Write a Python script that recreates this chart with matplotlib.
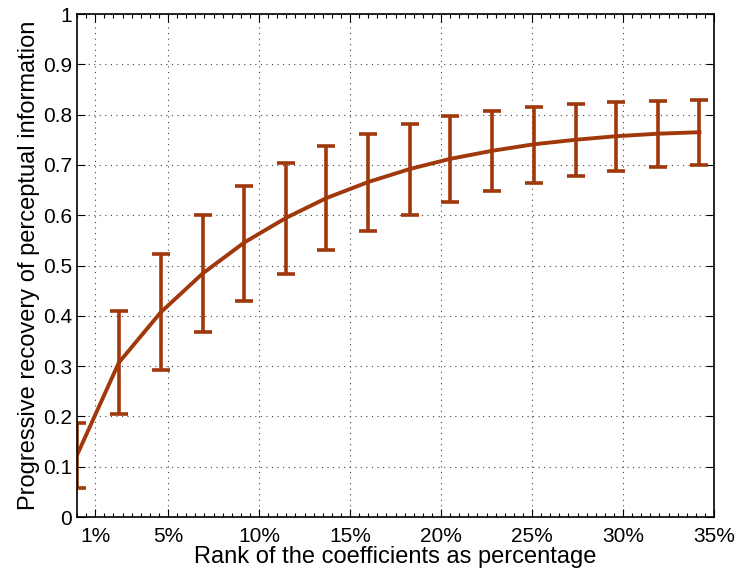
import matplotlib
matplotlib.use('Agg')
import matplotlib.pyplot as plt
from matplotlib.ticker import MultipleLocator

plt.rcParams['font.family'] = ['Liberation Sans', 'DejaVu Sans']

# rank of the retained coefficients (percent) and mean recovery with spread
rank_pct = [0.0, 2.3, 4.6, 6.9, 9.2, 11.5, 13.7, 16.0, 18.3, 20.5, 22.8, 25.1, 27.4, 29.6, 31.9, 34.2]
recovery = [0.123, 0.307, 0.407, 0.484, 0.546, 0.595, 0.634, 0.666, 0.692, 0.712,
            0.728, 0.741, 0.750, 0.757, 0.762, 0.765]
upper = [0.187, 0.409, 0.522, 0.600, 0.659, 0.704, 0.737, 0.762, 0.782, 0.797,
         0.808, 0.816, 0.821, 0.825, 0.828, 0.830]
lower = [0.057, 0.204, 0.292, 0.368, 0.429, 0.484, 0.530, 0.569, 0.601, 0.627,
         0.649, 0.665, 0.678, 0.688, 0.695, 0.700]

xtick_pos = [1, 5, 10, 15, 20, 25, 30, 35]
xtick_lab = ['1%', '5%', '10%', '15%', '20%', '25%', '30%', '35%']
ytick_pos = [0, 0.1, 0.2, 0.3, 0.4, 0.5, 0.6, 0.7, 0.8, 0.9, 1]
ytick_lab = ['0', '0.1', '0.2', '0.3', '0.4', '0.5', '0.6', '0.7', '0.8', '0.9', '1']

col = '#A0380B'

fig = plt.figure(figsize=(7.37, 5.74), dpi=100)
ax = fig.add_axes([0.1045, 0.0993, 0.8643, 0.8763])

err_lo = [m - l for m, l in zip(recovery, lower)]
err_hi = [u - m for m, u in zip(recovery, upper)]
ax.errorbar(rank_pct, recovery, yerr=[err_lo, err_hi], color=col, lw=2.8,
            elinewidth=2.6, capsize=6.5, capthick=2.6, clip_on=True)

ax.set_xlim(0, 35)
ax.set_ylim(0, 1)
ax.set_xticks(xtick_pos)
ax.set_xticklabels(xtick_lab)
ax.set_yticks(ytick_pos)
ax.set_yticklabels(ytick_lab)
ax.xaxis.set_minor_locator(MultipleLocator(0.5))

ax.grid(True, which='major', linestyle=(0, (1, 4)), color='#444444', linewidth=0.8)
ax.tick_params(which='both', direction='in', top=True, right=True, labelsize=15,
               width=0.8, colors='black')
ax.tick_params(which='major', length=6)
ax.tick_params(which='minor', length=3)
ax.tick_params(axis='x', pad=7)
for s in ax.spines.values():
    s.set_linewidth(1.2)

ax.set_xlabel('Rank of the coefficients as percentage', fontsize=17, labelpad=0)
ax.set_ylabel('Progressive recovery of perceptual information', fontsize=17, labelpad=2)

fig.savefig('out.png', dpi=100)
